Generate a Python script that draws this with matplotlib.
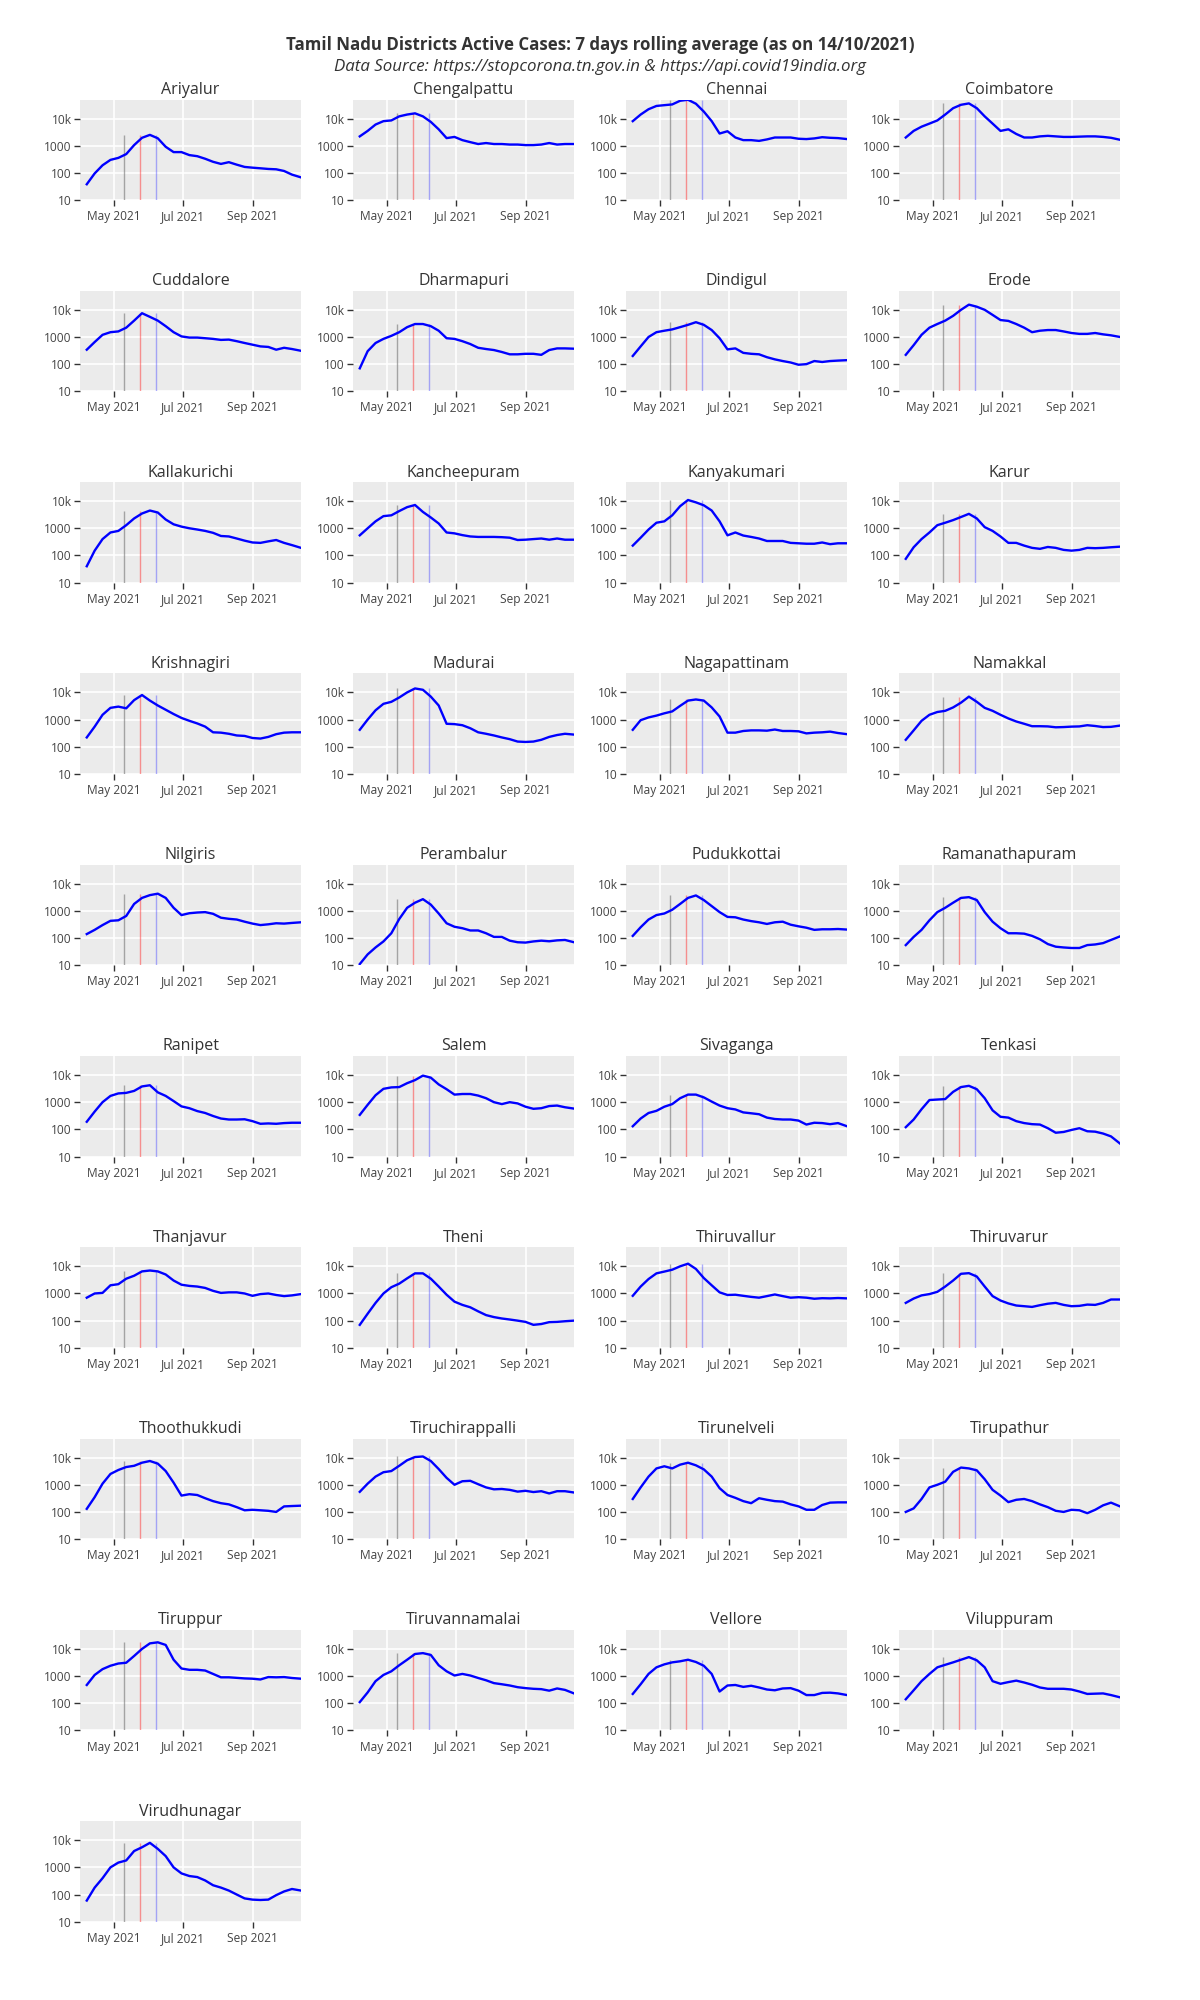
import matplotlib.pyplot as plt
import matplotlib.dates as mdates
import pandas as pd

# WEEKLY SAMPLE DATES (7 days rolling average) #
dates = ["2021-04-07", "2021-04-14", "2021-04-21", "2021-04-28", "2021-05-05", "2021-05-12", "2021-05-19",
         "2021-05-26", "2021-06-02", "2021-06-09", "2021-06-16", "2021-06-23", "2021-06-30", "2021-07-07",
         "2021-07-14", "2021-07-21", "2021-07-28", "2021-08-04", "2021-08-11", "2021-08-18", "2021-08-25",
         "2021-09-01", "2021-09-08", "2021-09-15", "2021-09-22", "2021-09-29", "2021-10-06", "2021-10-14"]

# ACTIVE CASES PER DISTRICT #
ariyalur = [38, 95, 190, 300, 355, 490, 1050, 1950, 2500, 1870, 910, 580, 580, 450, 410, 330, 255, 213, 247, 200, 165, 155, 147, 139, 135, 117, 86, 68]
chengalpattu = [2200, 3500, 6000, 8000, 8500, 12000, 14000, 15500, 12000, 7500, 4000, 1900, 2100, 1600, 1350, 1150, 1250, 1150, 1150, 1100, 1100, 1050, 1050, 1100, 1250, 1100, 1150, 1150]
chennai = [8000, 14000, 22000, 29000, 31000, 33000, 45000, 49000, 35000, 18000, 8000, 2800, 3400, 2000, 1600, 1600, 1500, 1700, 2000, 2000, 2000, 1800, 1750, 1850, 2050, 1950, 1900, 1750]
coimbatore = [2000, 3500, 5000, 6500, 8500, 14000, 24000, 32000, 36000, 24000, 12000, 6500, 3500, 4000, 2700, 2000, 2000, 2200, 2300, 2200, 2100, 2100, 2150, 2200, 2200, 2100, 1950, 1650]
cuddalore = [340, 650, 1200, 1500, 1600, 2200, 4000, 7500, 5500, 4000, 2500, 1500, 1050, 950, 950, 900, 850, 780, 800, 700, 600, 520, 450, 430, 340, 400, 360, 310]
dharmapuri = [70, 300, 600, 850, 1100, 1500, 2300, 3000, 3000, 2500, 1700, 900, 850, 700, 550, 400, 360, 330, 280, 230, 230, 240, 240, 220, 330, 380, 380, 370]
dindigul = [200, 450, 1000, 1500, 1700, 1900, 2300, 2800, 3500, 2800, 1800, 900, 350, 380, 260, 240, 230, 180, 150, 130, 115, 95, 100, 130, 120, 130, 135, 140]
erode = [220, 500, 1200, 2200, 3000, 4000, 6000, 10000, 15500, 13000, 10000, 6500, 4200, 3900, 3000, 2200, 1500, 1700, 1800, 1800, 1600, 1400, 1300, 1300, 1400, 1250, 1150, 1000]
kallakurichi = [40, 150, 400, 700, 800, 1300, 2300, 3500, 4500, 3800, 2100, 1400, 1150, 1000, 900, 800, 680, 520, 500, 420, 350, 300, 290, 330, 370, 290, 240, 190]
kancheepuram = [550, 1000, 1800, 2800, 3000, 4300, 6000, 7200, 4000, 2500, 1500, 700, 650, 560, 500, 480, 480, 480, 470, 450, 370, 380, 400, 420, 380, 420, 380, 380]
kanyakumari = [230, 450, 900, 1600, 1800, 3000, 6500, 11000, 9000, 7000, 4500, 1800, 550, 700, 540, 480, 420, 340, 340, 340, 290, 280, 270, 270, 300, 260, 280, 280]
karur = [75, 200, 400, 700, 1300, 1600, 2000, 2600, 3400, 2300, 1100, 800, 500, 290, 290, 230, 190, 175, 205, 190, 160, 150, 160, 190, 185, 190, 200, 210]
krishnagiri = [220, 550, 1500, 2700, 3000, 2600, 5200, 8000, 5000, 3300, 2300, 1600, 1150, 900, 720, 550, 340, 330, 300, 260, 250, 210, 200, 230, 290, 330, 340, 340]
madurai = [420, 1000, 2200, 3800, 4500, 6500, 10000, 14000, 12500, 7000, 3300, 700, 680, 620, 480, 340, 300, 260, 220, 190, 155, 150, 155, 180, 230, 270, 300, 280]
nagapattinam = [420, 950, 1200, 1400, 1700, 2000, 3200, 5000, 5500, 5000, 2800, 1300, 330, 330, 380, 400, 400, 390, 430, 380, 380, 370, 310, 330, 340, 360, 320, 290]
namakkal = [180, 400, 900, 1500, 1900, 2100, 2800, 4200, 7000, 4500, 2700, 2100, 1500, 1100, 850, 700, 570, 570, 560, 520, 530, 550, 560, 620, 580, 530, 540, 600]
nilgiris = [140, 200, 300, 430, 450, 650, 1800, 3000, 3800, 4300, 3000, 1300, 700, 820, 870, 900, 780, 560, 510, 480, 400, 340, 300, 320, 350, 340, 360, 380]
perambalur = [11, 25, 45, 75, 150, 500, 1300, 2000, 2700, 1700, 800, 350, 260, 230, 190, 190, 150, 110, 110, 80, 70, 68, 75, 80, 76, 82, 85, 70]
pudukkottai = [120, 250, 480, 700, 800, 1100, 1800, 3000, 3700, 2500, 1500, 900, 600, 580, 480, 420, 380, 330, 380, 400, 310, 270, 240, 200, 210, 210, 215, 205]
ramanathapuram = [55, 110, 200, 450, 900, 1300, 2000, 3000, 3200, 2500, 900, 400, 230, 150, 150, 145, 120, 90, 60, 48, 45, 43, 43, 55, 58, 65, 85, 115]
ranipet = [190, 450, 1000, 1700, 2100, 2200, 2600, 3800, 4200, 2300, 1700, 1100, 700, 600, 470, 400, 310, 250, 230, 230, 235, 200, 160, 165, 160, 170, 175, 175]
salem = [340, 800, 1800, 3100, 3500, 3600, 5000, 6500, 9500, 8000, 4500, 3000, 1900, 2000, 2000, 1750, 1400, 1000, 850, 1000, 900, 680, 570, 600, 720, 750, 650, 580]
sivaganga = [130, 250, 400, 480, 680, 850, 1400, 1900, 1900, 1500, 1050, 750, 600, 540, 420, 390, 360, 270, 240, 230, 230, 210, 150, 175, 170, 155, 170, 130]
tenkasi = [120, 230, 550, 1200, 1250, 1300, 2400, 3600, 4000, 3000, 1400, 500, 290, 270, 200, 170, 155, 150, 110, 75, 80, 95, 110, 85, 82, 70, 55, 30]
thanjavur = [700, 1000, 1050, 2000, 2200, 3500, 4500, 6500, 7000, 6500, 5000, 3000, 2100, 1900, 1800, 1600, 1250, 1050, 1100, 1100, 1000, 820, 950, 1000, 880, 800, 850, 950]
theni = [70, 180, 450, 1000, 1700, 2300, 3600, 5500, 5500, 3500, 1800, 900, 500, 380, 310, 220, 160, 135, 120, 110, 100, 90, 70, 75, 88, 90, 95, 100]
thiruvallur = [820, 1800, 3400, 5500, 6400, 7500, 10000, 12500, 8000, 3700, 2000, 1100, 880, 900, 820, 750, 700, 800, 920, 800, 700, 730, 700, 640, 670, 660, 680, 660]
thiruvarur = [450, 650, 850, 950, 1150, 1800, 3000, 5300, 5600, 4200, 1800, 800, 550, 430, 360, 340, 320, 370, 420, 450, 380, 340, 350, 390, 380, 450, 600, 600]
thoothukkudi = [130, 350, 1100, 2500, 3500, 4500, 5000, 6500, 7500, 6000, 3200, 1200, 400, 450, 420, 320, 250, 210, 190, 150, 115, 120, 115, 110, 100, 160, 165, 170]
tiruchirappalli = [550, 1100, 2000, 2900, 3200, 5000, 8000, 10500, 11000, 7500, 3800, 1800, 1000, 1350, 1400, 1050, 800, 680, 700, 650, 560, 600, 540, 580, 480, 580, 580, 520]
tirunelveli = [300, 800, 2000, 4000, 4800, 4000, 5500, 6500, 5200, 3700, 2000, 750, 420, 330, 250, 210, 320, 280, 250, 240, 190, 160, 120, 120, 180, 220, 225, 225]
tirupathur = [100, 135, 300, 800, 1000, 1300, 3000, 4300, 4000, 3400, 1600, 650, 400, 230, 280, 300, 250, 190, 150, 110, 100, 120, 115, 90, 120, 175, 220, 160]
tiruppur = [470, 1100, 1800, 2400, 2900, 3100, 5500, 10000, 16000, 17500, 14000, 4000, 1900, 1700, 1700, 1600, 1200, 900, 900, 860, 820, 800, 750, 920, 900, 920, 850, 800]
tiruvannamalai = [110, 250, 650, 1100, 1500, 2500, 4000, 6500, 7000, 6000, 2500, 1500, 1050, 1200, 1050, 850, 700, 550, 500, 450, 390, 360, 340, 330, 290, 350, 310, 230]
vellore = [220, 500, 1200, 2100, 2700, 3200, 3500, 4000, 3300, 2400, 1200, 270, 450, 470, 400, 440, 380, 320, 300, 350, 360, 290, 200, 200, 240, 245, 230, 200]
viluppuram = [140, 300, 650, 1200, 2100, 2600, 3200, 4000, 5000, 3800, 2100, 650, 520, 600, 680, 580, 480, 380, 340, 340, 340, 320, 270, 220, 225, 230, 200, 165]
virudhunagar = [60, 180, 400, 1000, 1500, 1800, 4000, 5500, 8000, 4800, 2600, 1000, 600, 480, 440, 330, 220, 180, 140, 100, 72, 65, 63, 65, 95, 130, 160, 140]

districtNames = ["Ariyalur", "Chengalpattu", "Chennai", "Coimbatore", "Cuddalore", "Dharmapuri", "Dindigul", "Erode",
                 "Kallakurichi", "Kancheepuram", "Kanyakumari", "Karur", "Krishnagiri", "Madurai", "Nagapattinam",
                 "Namakkal", "Nilgiris", "Perambalur", "Pudukkottai", "Ramanathapuram", "Ranipet", "Salem",
                 "Sivaganga", "Tenkasi", "Thanjavur", "Theni", "Thiruvallur", "Thiruvarur", "Thoothukkudi",
                 "Tiruchirappalli", "Tirunelveli", "Tirupathur", "Tiruppur", "Tiruvannamalai", "Vellore",
                 "Viluppuram", "Virudhunagar"]
districtValues = [ariyalur, chengalpattu, chennai, coimbatore, cuddalore, dharmapuri, dindigul, erode,
                  kallakurichi, kancheepuram, kanyakumari, karur, krishnagiri, madurai, nagapattinam,
                  namakkal, nilgiris, perambalur, pudukkottai, ramanathapuram, ranipet, salem,
                  sivaganga, tenkasi, thanjavur, theni, thiruvallur, thiruvarur, thoothukkudi,
                  tiruchirappalli, tirunelveli, tirupathur, tiruppur, tiruvannamalai, vellore,
                  viluppuram, virudhunagar]

# LOCKDOWN MARKERS #
lockdownDates = ["2021-05-10", "2021-05-24", "2021-06-07"]
lockdownColors = [(0.45, 0.45, 0.45, 0.6), (1.0, 0.2, 0.2, 0.5), (0.3, 0.3, 1.0, 0.45)]

yTicks = [10, 100, 1000, 10000]
yTickLabels = ["10", "100", "1000", "10k"]
xTicks = ["2021-05-01", "2021-07-01", "2021-09-01"]
xTickLabels = ["May 2021", "Jul 2021", "Sep 2021"]

plt.rcParams['font.family'] = ['Open Sans', 'DejaVu Sans']
x = pd.to_datetime(dates)

fig = plt.figure(figsize=(12, 20), dpi=100)
fig.text(0.5, 1 - 45 / 2000, "Tamil Nadu Districts Active Cases: 7 days rolling average (as on 14/10/2021)",
         ha='center', va='center', fontsize=12.2, fontweight='bold', color='#333333')
fig.text(0.5, 1 - 67 / 2000, "Data Source: https://stopcorona.tn.gov.in & https://api.covid19india.org",
         ha='center', va='center', fontsize=12.2, style='italic', color='#333333')

colLefts = [80, 353, 626, 899]
for i, (name, values) in enumerate(zip(districtNames, districtValues)):
    row, col = divmod(i, 4)
    top = 99.5 + 191.3 * row
    ax = fig.add_axes([colLefts[col] / 1200, 1 - (top + 100.5) / 2000, 221 / 1200, 100.5 / 2000])
    ax.set_facecolor('#ebebeb')
    for s in ax.spines.values():
        s.set_visible(False)
    ax.set_yscale('log')
    ax.set_ylim(10, 10 ** 4.7)
    ax.set_xlim(pd.Timestamp("2021-04-01"), pd.Timestamp("2021-10-14"))
    ax.set_yticks(yTicks)
    ax.set_yticklabels(yTickLabels)
    ax.yaxis.set_minor_locator(plt.NullLocator())
    ax.set_xticks(pd.to_datetime(xTicks))
    ax.set_xticklabels(xTickLabels, va='baseline')
    ax.grid(True, color='white', linewidth=1.2)
    ax.set_axisbelow(True)
    ax.tick_params(direction='out', length=4, width=1, color='#333333', labelcolor='#444444',
                   labelsize=8.6, pad=2)
    ax.tick_params(axis='x', pad=10.5)
    peak = max(values)
    for d, c in zip(lockdownDates, lockdownColors):
        ax.vlines(pd.Timestamp(d), 10, peak, color=c, linewidth=1)
    ax.plot(x, values, color='#0000ff', linewidth=1.7, solid_joinstyle='round')
    ax.set_title(name, fontsize=11.5, color='#333333', pad=4)

fig.savefig("out.png", dpi=100)
